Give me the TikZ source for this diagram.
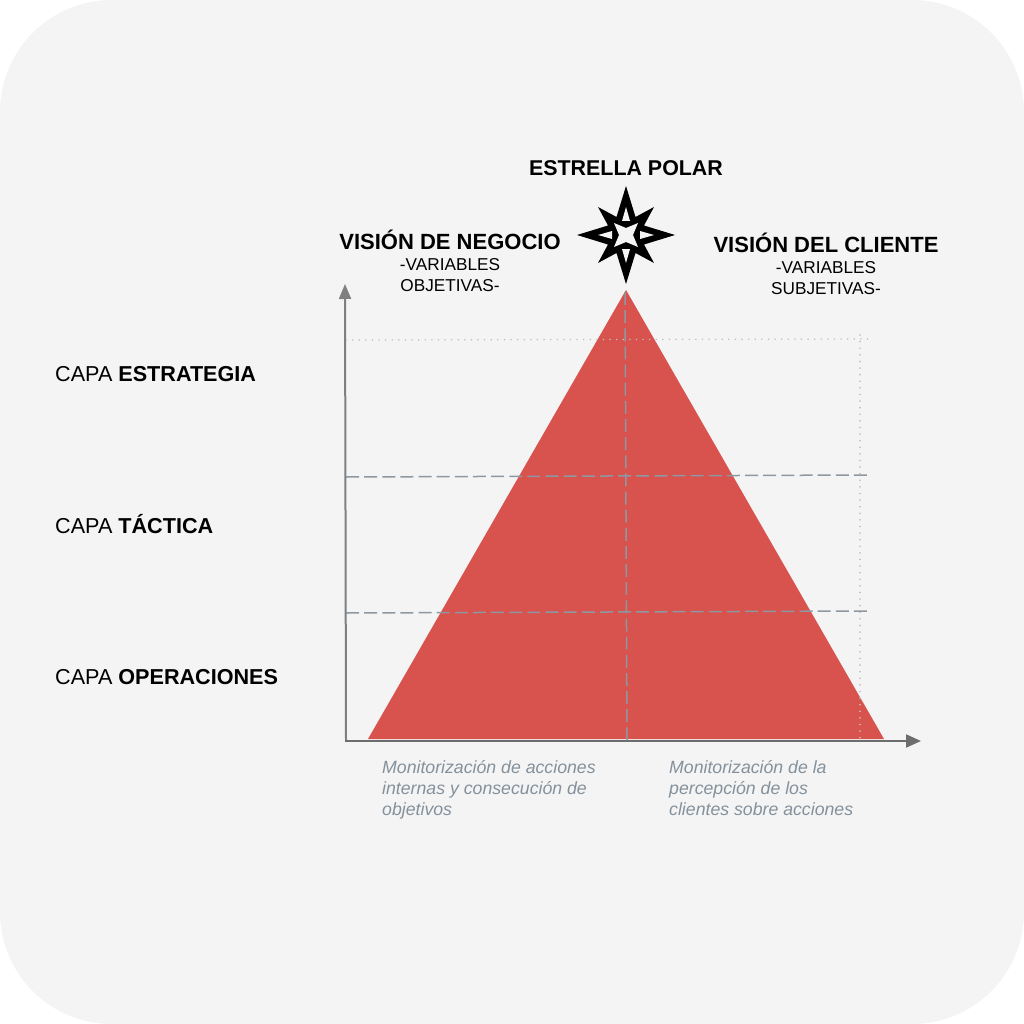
\documentclass[tikz,border=0pt]{standalone}
\usepackage{fontspec}
\setmainfont{Liberation Sans}
\usetikzlibrary{arrows.meta}
\definecolor{panel}{HTML}{F4F4F4}
\definecolor{pyr}{HTML}{D8524E}
\definecolor{axis}{HTML}{808080}
\definecolor{dashc}{HTML}{8C98A2}
\definecolor{dotc}{HTML}{BEBEBE}
\definecolor{note}{HTML}{84919C}
\tikzset{
  x=1pt,y=-1pt,
  axisline/.style={draw=axis,line width=2pt},
  dashline/.style={draw=dashc,line width=1.5pt,dash pattern=on 13pt off 5.14pt},
  dotline/.style={draw=dotc,line width=1.6pt,line cap=round,dash pattern=on 0.1pt off 6.5pt},
  head/.style={font=\fontsize{22}{26}\selectfont\bfseries,anchor=center,inner sep=0pt},
  sub/.style={font=\fontsize{17.2}{21}\selectfont,align=center,anchor=center,inner sep=0pt},
  layer/.style={font=\fontsize{21.6}{26}\selectfont,anchor=west,inner sep=0pt},
  notetext/.style={font=\fontsize{17.7}{21}\selectfont\itshape,text=note,align=left,anchor=north west,inner sep=0pt},
}
\begin{document}
\begin{tikzpicture}
\useasboundingbox (0,0) rectangle (1024,1024);
\fill[white] (0,0) rectangle (1024,1024);
\fill[panel,rounded corners=112pt] (0,0) rectangle (1024,1024);
% pyramid
\fill[pyr] (626,290) -- (884,739) -- (368,739) -- cycle;
% dotted guides
\coordinate (dl) at (346,340);
\coordinate (dr) at (868,339);
\coordinate (dt) at (860,335);
\coordinate (db) at (860,739);
\draw[dotline] (dl) -- (dr);
\draw[dotline] (dt) -- (db);
% dashed
\coordinate (d1l) at (346,477);
\coordinate (d1r) at (867,475);
\coordinate (d2l) at (346,613);
\coordinate (d2r) at (867,611);
\coordinate (vt) at (625,292);
\coordinate (vb) at (627,741);
\draw[dashline] (d1l) -- (d1r);
\draw[dashline] (d2l) -- (d2r);
\draw[dashline] (vt) -- (vb);
% axes
\coordinate (o) at (346,741);
\coordinate (ax) at (921,741);
\coordinate (ay) at (345,284);
\draw[axisline,-{Triangle[length=15pt,width=12pt]}] (o) -- (ay);
\draw[axisline,draw=axis!85!black,-{Triangle[length=15pt,width=13pt]}] (344.9,741) -- (ax);
% star
\fill[black] (626,186) -- (635.5,217) -- (654,207) -- (644,225.5) -- (675,235) -- (644,244.5) -- (654,263) -- (635.5,253) -- (626,284) -- (616.5,253) -- (598,263) -- (608,244.5) -- (577,235) -- (608,225.5) -- (598,207) -- (616.5,217) -- cycle;
\fill[panel] (638,223) -- (633,235) -- (638,247) -- (626,242) -- (614,247) -- (619,235) -- (614,223) -- (626,228) -- cycle;
\fill[panel] (626,207) -- (630,221) -- (622,221) -- cycle;
\fill[panel] (626,263) -- (630,249) -- (622,249) -- cycle;
\fill[panel] (654,235) -- (640,231) -- (640,239) -- cycle;
\fill[panel] (598,235) -- (612,231) -- (612,239) -- cycle;
% texts
\node[head,font=\fontsize{21.4}{26}\selectfont\bfseries] (polar) at (626,168) {ESTRELLA POLAR};
\node[head] (neg) at (450,239.5) {VISIÓN DE NEGOCIO};
\node[sub] (negs) at (450,275.5) {-VARIABLES\\OBJETIVAS-};
\node[head] (cli) at (826,243) {VISIÓN DEL CLIENTE};
\node[sub] (clis) at (826,278.5) {-VARIABLES\\SUBJETIVAS-};
\node[layer] (c1) at (55,374) {CAPA \textbf{ESTRATEGIA}};
\node[layer] (c2) at (55,524.5) {CAPA \textbf{TÁCTICA}};
\node[layer] (c3) at (55,677) {CAPA \textbf{OPERACIONES}};
\node[notetext] (n1) at (382,760) {Monitorización de acciones\\internas y consecución de\\objetivos};
\node[notetext] (n2) at (669,760) {Monitorización de la\\percepción de los\\clientes sobre acciones};
\end{tikzpicture}
\end{document}
